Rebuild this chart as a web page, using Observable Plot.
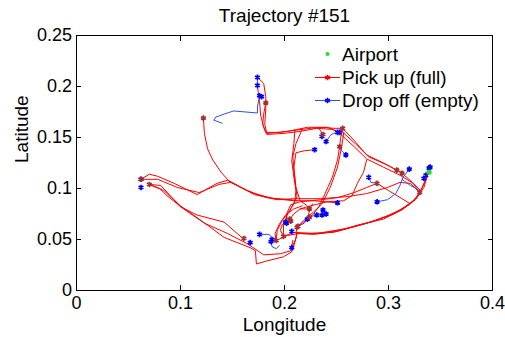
<!DOCTYPE html>
<html>
<head>
<meta charset="utf-8">
<script src="https://cdn.jsdelivr.net/npm/d3@7"></script>
<script src="https://cdn.jsdelivr.net/npm/@observablehq/plot@0.6"></script>
<style>
  html, body { margin: 0; padding: 0; background: #fff; }
</style>
</head>
<body>
<div id="chart"></div>
<script>
// Taxi trajectory #151: occupied legs (pick up -> drop off) and empty legs.
const titleText = "Trajectory #151";
const xLabel = "Longitude";
const yLabel = "Latitude";
const legendLabels = ["Airport", "Pick up (full)", "Drop off (empty)"];

const lonTicks = [0, 0.1, 0.2, 0.3, 0.4];
const latTicks = [0, 0.05, 0.1, 0.15, 0.2, 0.25];

// Occupied legs, each a list of [longitude, latitude]
const fullTrips = [
  [[0.122,0.169],[0.123,0.154],[0.126,0.139],[0.131,0.128],[0.139,0.116],[0.146,0.108],[0.158,0.101],[0.171,0.095],[0.190,0.090],[0.209,0.088],[0.228,0.088],[0.251,0.086]],
  [[0.062,0.109],[0.070,0.114],[0.078,0.112],[0.094,0.105],[0.116,0.094],[0.135,0.105],[0.145,0.108],[0.155,0.103],[0.171,0.094],[0.193,0.089],[0.209,0.090],[0.235,0.090],[0.260,0.092],[0.279,0.095],[0.299,0.101],[0.311,0.106],[0.321,0.105],[0.330,0.096]],
  [[0.062,0.109],[0.078,0.109],[0.097,0.101],[0.118,0.096],[0.137,0.104],[0.148,0.106],[0.164,0.098],[0.183,0.091],[0.206,0.089],[0.212,0.088]],
  [[0.070,0.104],[0.081,0.103],[0.091,0.092],[0.100,0.082],[0.116,0.074],[0.142,0.067],[0.160,0.051]],
  [[0.070,0.104],[0.084,0.098],[0.100,0.083],[0.126,0.064],[0.142,0.052],[0.167,0.042],[0.172,0.039],[0.173,0.026],[0.183,0.029],[0.199,0.033],[0.207,0.038],[0.210,0.047],[0.212,0.056]],
  [[0.070,0.104],[0.080,0.100],[0.087,0.093],[0.103,0.080],[0.123,0.066],[0.145,0.056],[0.164,0.046],[0.180,0.035],[0.196,0.036],[0.206,0.039],[0.208,0.049]],
  [[0.182,0.184],[0.180,0.173],[0.179,0.163],[0.182,0.155],[0.196,0.155],[0.209,0.157],[0.225,0.159],[0.238,0.160],[0.247,0.159],[0.256,0.159]],
  [[0.174,0.200],[0.176,0.186],[0.177,0.172],[0.180,0.160],[0.183,0.153],[0.199,0.154],[0.215,0.156],[0.231,0.159],[0.246,0.158],[0.253,0.154]],
  [[0.174,0.209],[0.180,0.203],[0.182,0.190],[0.182,0.177],[0.181,0.163],[0.183,0.154],[0.203,0.156],[0.222,0.160],[0.241,0.160],[0.251,0.156]],
  [[0.210,0.157],[0.209,0.144],[0.207,0.127],[0.209,0.111],[0.211,0.098],[0.210,0.088],[0.205,0.078],[0.198,0.069],[0.193,0.059],[0.192,0.049]],
  [[0.217,0.158],[0.211,0.144],[0.208,0.131],[0.210,0.108],[0.212,0.092],[0.209,0.085],[0.203,0.075],[0.199,0.065],[0.199,0.053]],
  [[0.229,0.138],[0.219,0.137],[0.211,0.135],[0.209,0.121],[0.211,0.101],[0.215,0.088],[0.222,0.083],[0.224,0.080]],
  [[0.253,0.141],[0.251,0.128],[0.246,0.111],[0.239,0.095],[0.233,0.082],[0.227,0.074],[0.224,0.072]],
  [[0.257,0.155],[0.255,0.141],[0.251,0.121],[0.244,0.101],[0.236,0.085],[0.228,0.077],[0.220,0.070],[0.213,0.063]],
  [[0.256,0.159],[0.267,0.147],[0.279,0.133],[0.295,0.125],[0.308,0.118]],
  [[0.254,0.157],[0.268,0.144],[0.281,0.131],[0.299,0.123],[0.313,0.115],[0.323,0.106],[0.330,0.096]],
  [[0.252,0.155],[0.267,0.141],[0.279,0.129],[0.295,0.121],[0.311,0.113],[0.324,0.105],[0.331,0.098],[0.335,0.106],[0.338,0.115]],
  [[0.212,0.062],[0.211,0.056],[0.228,0.055],[0.251,0.058],[0.276,0.065],[0.299,0.073],[0.315,0.081],[0.326,0.090],[0.332,0.100],[0.336,0.110],[0.339,0.116]],
  [[0.192,0.049],[0.203,0.054],[0.215,0.056],[0.235,0.056],[0.260,0.061],[0.286,0.068],[0.308,0.077],[0.323,0.087],[0.331,0.096]],
  [[0.207,0.042],[0.211,0.051],[0.212,0.056],[0.231,0.056],[0.257,0.060],[0.283,0.067],[0.305,0.075],[0.321,0.085],[0.330,0.095]],
  [[0.199,0.053],[0.209,0.057],[0.225,0.056],[0.247,0.057],[0.270,0.064],[0.295,0.070],[0.313,0.079],[0.326,0.089],[0.334,0.101],[0.337,0.111],[0.340,0.121]],
  [[0.279,0.128],[0.276,0.116],[0.270,0.105],[0.265,0.093],[0.257,0.088],[0.241,0.087],[0.225,0.083],[0.215,0.080]],
  [[0.289,0.105],[0.279,0.101],[0.267,0.096],[0.251,0.091],[0.235,0.089],[0.215,0.087],[0.206,0.084],[0.202,0.075],[0.202,0.066]],
  [[0.289,0.105],[0.300,0.098],[0.313,0.090],[0.321,0.085]],
  [[0.205,0.070],[0.209,0.075],[0.215,0.080],[0.224,0.080]],
  [[0.213,0.063],[0.219,0.066],[0.223,0.072],[0.224,0.080],[0.227,0.085]],
  [[0.192,0.048],[0.191,0.056],[0.195,0.065],[0.201,0.074],[0.209,0.080],[0.217,0.083]],
  [[0.199,0.053],[0.196,0.059],[0.198,0.065],[0.206,0.068]],
  [[0.256,0.159],[0.254,0.150],[0.253,0.141]],
  [[0.233,0.159],[0.237,0.153]]
];

// Empty legs (after a drop off), each a list of [longitude, latitude]
const emptyTrips = [
  [[0.176,0.191],[0.174,0.180],[0.174,0.174],[0.163,0.175],[0.151,0.176],[0.142,0.173],[0.134,0.170],[0.132,0.167],[0.140,0.164]],
  [[0.174,0.209],[0.174,0.201]],
  [[0.176,0.191],[0.178,0.190]],
  [[0.240,0.146],[0.244,0.152],[0.247,0.154],[0.253,0.155]],
  [[0.253,0.141],[0.255,0.137],[0.257,0.135],[0.259,0.133]],
  [[0.281,0.111],[0.283,0.106],[0.289,0.105]],
  [[0.289,0.087],[0.299,0.089],[0.307,0.095],[0.311,0.103],[0.314,0.111],[0.320,0.119]],
  [[0.313,0.109],[0.321,0.103],[0.330,0.098]],
  [[0.334,0.110],[0.336,0.113],[0.339,0.120],[0.340,0.121]],
  [[0.213,0.063],[0.217,0.066],[0.222,0.070],[0.227,0.073],[0.231,0.074]],
  [[0.237,0.079],[0.236,0.074],[0.240,0.075]],
  [[0.176,0.055],[0.185,0.055],[0.188,0.052]],
  [[0.187,0.048],[0.188,0.043],[0.192,0.041],[0.195,0.044]],
  [[0.236,0.152],[0.237,0.153]]
];

// Pick-up locations
const pickupPoints = [
  [0.122,0.169],[0.182,0.184],[0.062,0.109],[0.070,0.104],[0.161,0.051],[0.256,0.159],[0.253,0.141],
  [0.237,0.153],[0.308,0.118],[0.313,0.115],[0.289,0.105],[0.330,0.096],[0.224,0.080],[0.224,0.072],
  [0.205,0.070],[0.206,0.068],[0.212,0.062],[0.213,0.063],[0.199,0.053],[0.192,0.049]
];

// Drop-off locations
const dropoffPoints = [
  [0.174,0.209],[0.174,0.201],[0.176,0.191],[0.178,0.190],[0.062,0.109],[0.062,0.101],[0.229,0.138],
  [0.236,0.151],[0.240,0.146],[0.251,0.155],[0.253,0.155],[0.259,0.133],[0.281,0.111],[0.289,0.087],
  [0.320,0.119],[0.334,0.110],[0.336,0.113],[0.339,0.120],[0.340,0.121],[0.251,0.086],[0.237,0.079],
  [0.231,0.074],[0.236,0.074],[0.240,0.075],[0.222,0.070],[0.202,0.066],[0.201,0.067],[0.207,0.058],
  [0.176,0.055],[0.167,0.047],[0.188,0.050],[0.187,0.048],[0.207,0.042]
];

const airport = [0.339, 0.116];

const fullColor = "#ff0000";
const pickupColor = "#a82e2e";
const emptyColor = "#2f4fe8";
const dropColor = "#0000ff";
const airportColor = "#22e022";

const toRows = trips => trips.flatMap((trip, i) => trip.map(([lon, lat]) => ({trip: i, lon, lat})));
const fullRows = toRows(fullTrips);
const emptyRows = toRows(emptyTrips);
const fmt = d3.format("~g");

// Legend inside the plot area, top-right corner
function legendMark(index, scales, values, dims) {
  const right = dims.width - dims.marginRight;
  const top = dims.marginTop;
  const g = d3.create("svg:g")
    .attr("font-size", 19)
    .attr("fill", "black")
    .attr("text-anchor", "start");
  const xMark = right - 164.5, xLine0 = right - 177, xLine1 = right - 152, xText = right - 150;
  const rows = [
    {label: legendLabels[0], y: top + 19, kind: "airport"},
    {label: legendLabels[1], y: top + 42.5, kind: "full"},
    {label: legendLabels[2], y: top + 65.5, kind: "empty"}
  ];
  const star = d3.symbol(d3.symbolAsterisk, Math.PI * 2.6 * 2.6)();
  for (const r of rows) {
    if (r.kind === "airport") {
      g.append("circle").attr("cx", xMark).attr("cy", r.y).attr("r", 2).attr("fill", airportColor);
    } else {
      const c = r.kind === "full" ? fullColor : emptyColor;
      const m = r.kind === "full" ? fullColor : dropColor;
      g.append("line").attr("x1", xLine0).attr("x2", xLine1).attr("y1", r.y).attr("y2", r.y)
        .attr("stroke", c).attr("stroke-width", 1);
      g.append("path").attr("d", star).attr("transform", `translate(${xMark},${r.y})`)
        .attr("fill", "none").attr("stroke", m).attr("stroke-width", 1.6);
    }
    g.append("text").attr("x", xText).attr("y", r.y + 6.8).attr("text-anchor", "start").text(r.label);
  }
  return g.node();
}

const chart = Plot.plot({
  width: 505,
  height: 337,
  marginTop: 35,
  marginRight: 13,
  marginBottom: 47,
  marginLeft: 76,
  style: {fontFamily: '"Liberation Sans", Arial, Helvetica, sans-serif', fontSize: "19px", background: "white", color: "black"},
  x: {domain: [0, 0.4], axis: null, label: null},
  y: {domain: [0, 0.25], axis: null, label: null},
  marks: [
    Plot.line(fullRows, {x: "lon", y: "lat", z: "trip", stroke: fullColor, strokeWidth: 1}),
    Plot.line(emptyRows, {x: "lon", y: "lat", z: "trip", stroke: emptyColor, strokeWidth: 1}),
    Plot.dot(dropoffPoints, {x: d => d[0], y: d => d[1], symbol: "asterisk", r: 2.6, stroke: dropColor, strokeWidth: 1.7}),
    Plot.dot(pickupPoints, {x: d => d[0], y: d => d[1], symbol: "asterisk", r: 2.6, stroke: pickupColor, strokeWidth: 1.7}),
    Plot.dot([airport], {x: d => d[0], y: d => d[1], r: 2.6, fill: airportColor}),
    Plot.frame({stroke: "black", strokeWidth: 1}),
    Plot.axisX({ticks: lonTicks, anchor: "bottom", tickSize: -5, tickPadding: 11, tickFormat: fmt, fontSize: 18, label: null}),
    Plot.axisX({ticks: lonTicks, anchor: "top", tickSize: -5, fill: "none", label: null}),
    Plot.axisY({ticks: latTicks, anchor: "left", tickSize: -5, tickPadding: 9.5, tickFormat: fmt, fontSize: 18, label: null}),
    Plot.axisY({ticks: latTicks, anchor: "right", tickSize: -5, fill: "none", label: null}),
    Plot.text([titleText], {frameAnchor: "top", dy: -14, lineAnchor: "bottom", fontSize: 19}),
    Plot.text([xLabel], {frameAnchor: "bottom", dy: 40, lineAnchor: "bottom", fontSize: 19}),
    Plot.text([yLabel], {frameAnchor: "left", dx: -49, rotate: -90, lineAnchor: "bottom", fontSize: 19}),
    legendMark
  ]
});

document.getElementById("chart").append(chart);
</script>
</body>
</html>
